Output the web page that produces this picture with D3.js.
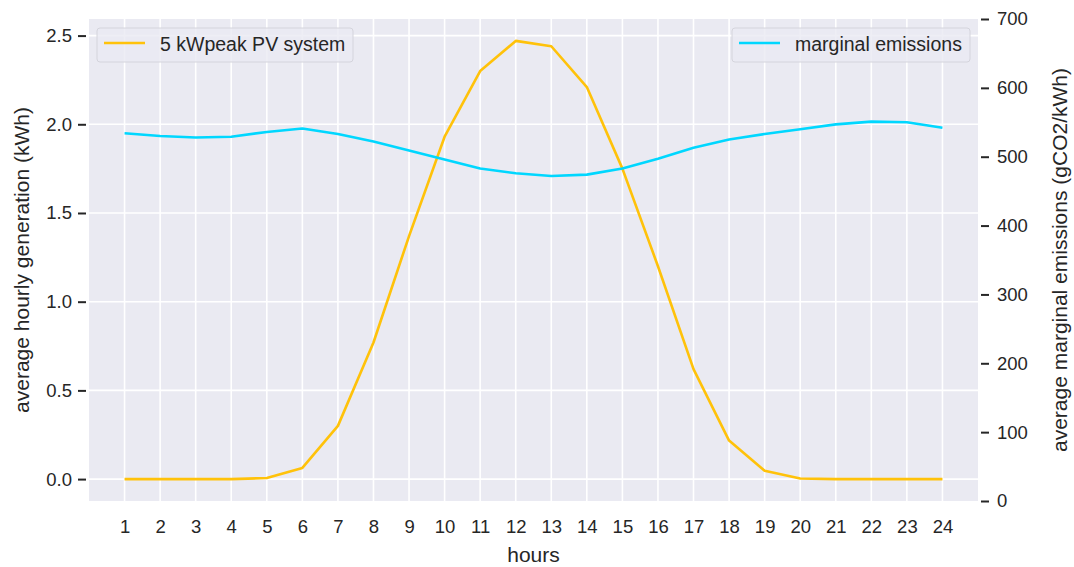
<!DOCTYPE html>
<html>
<head>
<meta charset="utf-8">
<script src="https://cdn.jsdelivr.net/npm/d3@7"></script>
<style>
  body { margin: 0; background: #fff; }
  text { font-family: "Liberation Sans", Arial, sans-serif; fill: #262626; }
</style>
</head>
<body>
<svg id="chart" width="1074" height="567"></svg>
<script>
const hours = d3.range(1, 25);
const pvGeneration = [0, 0, 0, 0, 0.006, 0.063, 0.30, 0.77, 1.37, 1.93, 2.30, 2.47, 2.44, 2.21, 1.75, 1.20, 0.62, 0.217, 0.047, 0.003, 0, 0, 0, 0];
const marginalEmissions = [534, 530, 528, 529, 536, 541, 533, 522, 509, 496, 483, 476, 472, 474, 483, 497, 513, 525, 533, 540, 547, 551, 550, 542];
const leftTicks = [0, 0.5, 1.0, 1.5, 2.0, 2.5];
const rightTicks = [0, 100, 200, 300, 400, 500, 600, 700];

const pvColor = "#ffc20a";
const emColor = "#00d7ff";

const svg = d3.select("#chart");
const margin = {left: 89, right: 96, top: 19, bottom: 66};
const width = 1074 - margin.left - margin.right;
const height = 567 - margin.top - margin.bottom;

const x = d3.scaleLinear().domain([0, 25]).range([0, width]);
const yLeft = d3.scaleLinear().domain([-0.1235, 2.5935]).range([height, 0]);
const yRight = d3.scaleLinear().domain([0, 700]).range([height, 0]);

const g = svg.append("g").attr("transform", `translate(${margin.left},${margin.top})`);

g.append("rect").attr("width", width).attr("height", height).attr("fill", "#eaeaf2");

// grid
g.selectAll(".vgrid").data(hours).join("line")
    .attr("x1", d => x(d)).attr("x2", d => x(d))
    .attr("y1", 0).attr("y2", height)
    .attr("stroke", "#fff").attr("stroke-width", 1.6);
g.selectAll(".hgrid").data(leftTicks).join("line")
    .attr("x1", 0).attr("x2", width)
    .attr("y1", d => yLeft(d)).attr("y2", d => yLeft(d))
    .attr("stroke", "#fff").attr("stroke-width", 1.6);

// axes
const leftAxis = g.append("g")
    .call(d3.axisLeft(yLeft).tickValues(leftTicks).tickFormat(d3.format(".1f")).tickSize(8).tickPadding(6));
leftAxis.select(".domain").remove();
leftAxis.selectAll("line").attr("stroke", "#262626").attr("stroke-width", 2).attr("transform", "translate(-3,0)");
leftAxis.selectAll("text").attr("font-size", 18.5).attr("fill", "#262626").attr("dx", "-3");

const rightAxis = g.append("g").attr("transform", `translate(${width},0)`)
    .call(d3.axisRight(yRight).tickValues(rightTicks).tickSize(8).tickPadding(8));
rightAxis.select(".domain").remove();
rightAxis.selectAll("line").attr("stroke", "#262626").attr("stroke-width", 2).attr("transform", "translate(3,0)");
rightAxis.selectAll("text").attr("font-size", 18.5).attr("fill", "#262626").attr("dx", "3");

const bottomAxis = g.append("g").attr("transform", `translate(0,${height})`)
    .call(d3.axisBottom(x).tickValues(hours).tickFormat(d3.format("d")).tickSize(0).tickPadding(19));
bottomAxis.select(".domain").remove();
bottomAxis.selectAll("text").attr("font-size", 18.5).attr("fill", "#262626");

// lines
const pvLine = d3.line().x((d, i) => x(hours[i])).y(d => yLeft(d));
const emLine = d3.line().x((d, i) => x(hours[i])).y(d => yRight(d));

g.append("path").datum(pvGeneration)
    .attr("d", pvLine).attr("fill", "none")
    .attr("stroke", pvColor).attr("stroke-width", 2.6).attr("stroke-linejoin", "round");
g.append("path").datum(marginalEmissions)
    .attr("d", emLine).attr("fill", "none")
    .attr("stroke", emColor).attr("stroke-width", 2.6).attr("stroke-linejoin", "round");

// legends
function legend(x0, w, label, color) {
    const lg = g.append("g").attr("transform", `translate(${x0},9)`);
    lg.append("rect").attr("width", w).attr("height", 34).attr("rx", 3)
        .attr("fill", "#eaeaf2").attr("fill-opacity", 0.8)
        .attr("stroke", "#d4d4dc").attr("stroke-width", 1);
    lg.append("line").attr("x1", 7).attr("x2", 48).attr("y1", 15).attr("y2", 15)
        .attr("stroke", color).attr("stroke-width", 2.6);
    lg.append("text").attr("x", 63).attr("y", 22.5).attr("font-size", 19.5).text(label);
}
legend(8, 256, "5 kWpeak PV system", pvColor);
legend(643, 238, "marginal emissions", emColor);

// axis labels
svg.append("text").attr("transform", `translate(29,${margin.top + height / 2}) rotate(-90)`)
    .attr("text-anchor", "middle").attr("font-size", 21).text("average hourly generation (kWh)");
svg.append("text").attr("transform", `translate(1067,${margin.top + height / 2}) rotate(-90)`)
    .attr("text-anchor", "middle").attr("font-size", 21).text("average marginal emissions (gCO2/kWh)");
svg.append("text").attr("x", margin.left + width / 2).attr("y", 562)
    .attr("text-anchor", "middle").attr("font-size", 21).text("hours");
</script>
</body>
</html>
